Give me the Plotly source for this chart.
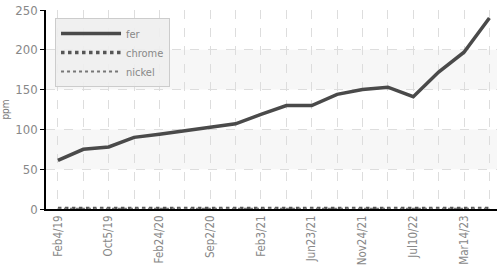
import plotly.graph_objects as go

tick_labels = ["Feb4/19", "Oct5/19", "Feb24/20", "Sep2/20", "Feb3/21",
               "Jun23/21", "Nov24/21", "Jul10/22", "Mar14/23"]
x_index = list(range(18))
fer = [61, 75, 78, 90, 94, 98, 102, 107, 119, 130, 130, 144, 150, 153, 141, 172, 197, 240]
chrome = [0.5] * 18
nickel = [0.3] * 18

FONT = "DejaVu Sans Condensed, Liberation Sans Narrow, sans-serif"

fig = go.Figure()
fig.add_trace(go.Scatter(x=x_index, y=fer, name="fer", mode="lines",
                         line=dict(color="#4a4a4a", width=3.5)))
fig.add_trace(go.Scatter(x=x_index, y=chrome, name="chrome", mode="lines",
                         line=dict(color="#555555", width=3.5, dash="dot")))
fig.add_trace(go.Scatter(x=x_index, y=nickel, name="nickel", mode="lines",
                         line=dict(color="#777777", width=2, dash="dot")))

for lo, hi in [(50, 100), (150, 200)]:
    fig.add_shape(type="rect", xref="paper", yref="y", x0=0, x1=1, y0=lo, y1=hi,
                  fillcolor="#f7f7f7", line_width=0, layer="below")

fig.update_layout(
    width=499, height=266,
    margin=dict(l=46, r=2, t=10, b=57),
    paper_bgcolor="white", plot_bgcolor="white",
    font=dict(family=FONT, size=11, color="#888888"),
    showlegend=True,
    legend=dict(x=0.02, y=0.96, xanchor="left", yanchor="top",
                bgcolor="rgba(238,238,238,0.9)", bordercolor="#cccccc", borderwidth=1,
                font=dict(family=FONT, size=11, color="#888888"),
                itemwidth=60, tracegroupgap=0),
    xaxis=dict(
        range=[-0.47, 17.3], automargin=False,
        tickmode="array", tickvals=x_index[::2], ticktext=tick_labels,
        tickangle=-90, showgrid=True, gridcolor="#dddddd", griddash="dash",
        minor=dict(dtick=1, tick0=0, showgrid=True, gridcolor="#dddddd", griddash="dash"),
        showline=True, linecolor="black", linewidth=1.5, zeroline=False,
        ticks="", tickfont=dict(color="#888888", size=11.5),
    ),
    yaxis=dict(
        range=[0, 250], dtick=50, automargin=False,
        title=dict(text="ppm", font=dict(size=10, color="#777777"), standoff=6),
        showgrid=True, gridcolor="#dddddd", griddash="dash",
        showline=True, linecolor="black", linewidth=1.5, zeroline=False,
        ticks="outside", ticklen=4, tickcolor="black",
        tickfont=dict(color="#888888", size=13),
    ),
)

fig.write_html("out.html", config={"displayModeBar": False},
               post_script="document.body.style.margin='0';")
